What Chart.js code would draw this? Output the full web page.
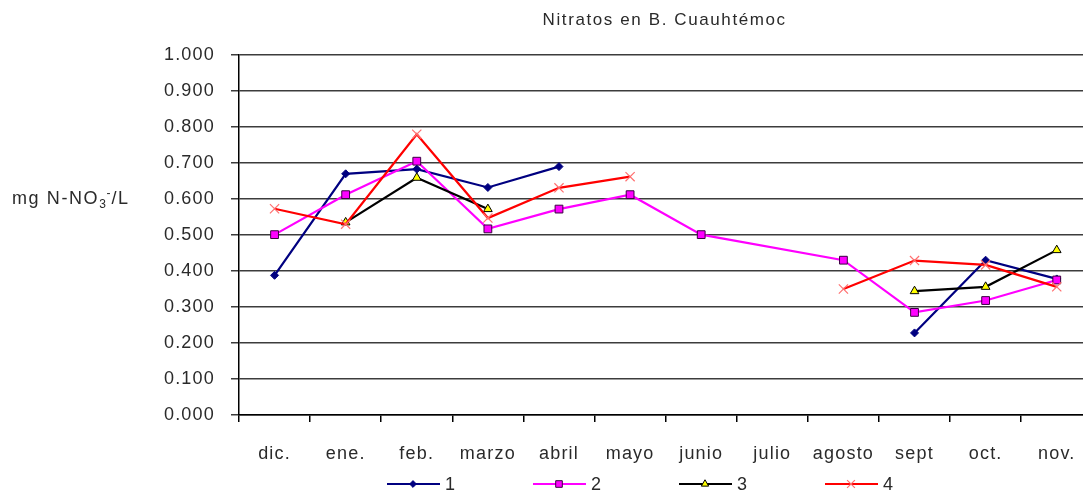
<!DOCTYPE html>
<html>
<head>
<meta charset="utf-8">
<script src="https://cdn.jsdelivr.net/npm/chart.js@4/dist/chart.umd.min.js"></script>
<style>
html,body{margin:0;padding:0;background:#fff;overflow:hidden;width:1083px;height:494px;}
canvas{display:block;}
</style>
</head>
<body>
<canvas id="c" width="1100" height="494"></canvas>
<script>
const chartTitle = 'Nitratos en B. Cuauhtémoc';
const categories = ['dic.','ene.','feb.','marzo','abril','mayo','junio','julio','agosto','sept','oct.','nov.'];
const seriesNames = ['1','2','3','4'];
const serie1 = [0.388, 0.670, 0.683, 0.632, 0.690, null, null, null, null, 0.228, 0.430, 0.378];
const serie2 = [0.501, 0.612, 0.705, 0.517, 0.572, 0.612, 0.501, null, 0.430, 0.285, 0.318, 0.375];
const serie3 = [null, 0.535, 0.659, 0.572, null, null, null, null, null, 0.344, 0.356, 0.458];
const serie4 = [0.573, 0.530, 0.780, 0.547, 0.631, 0.662, null, null, 0.350, 0.429, 0.417, 0.356];
const yTicks = [0, 0.1, 0.2, 0.3, 0.4, 0.5, 0.6, 0.7, 0.8, 0.9, 1.0];

const FONT = 'Liberation Sans, Arial, sans-serif';
const LS = '1.2px';
const TXT = '#2a2a2a';

const datasets = [
  {label: seriesNames[0], data: serie1, borderColor:'#000080', backgroundColor:'#000080',
   pointStyle:'rectRot', pointRadius:4, pointBorderColor:'#000080', pointBackgroundColor:'#000080', pointBorderWidth:1, order:4},
  {label: seriesNames[1], data: serie2, borderColor:'#FF00FF', backgroundColor:'#FF00FF', spanGaps:true,
   pointStyle:'rect', pointRadius:5.5, pointBorderColor:'#3a0040', pointBackgroundColor:'#FF00FF', pointBorderWidth:1, order:3},
  {label: seriesNames[2], data: serie3, borderColor:'#000000', backgroundColor:'#000000',
   pointStyle:'triangle', pointRadius:5, pointBorderColor:'#000000', pointBackgroundColor:'#FFFF00', pointBorderWidth:1, order:2},
  {label: seriesNames[3], data: serie4, borderColor:'#FF0000', backgroundColor:'#FF0000',
   pointStyle:'crossRot', pointRadius:6.5, pointBorderColor:'#FF7070', pointBackgroundColor:'#FF7070', pointBorderWidth:1.2, order:1}
];
datasets.forEach(d => { d.borderWidth = 2.2; d.tension = 0; d.fill = false; });

const setLS = {
  id:'setLS',
  beforeUpdate(chart){ chart.ctx.letterSpacing = LS; },
  beforeLayout(chart){ chart.ctx.letterSpacing = LS; },
  beforeDraw(chart){ chart.ctx.letterSpacing = LS; }
};

const extras = {
  id:'extras',
  afterDraw(chart){
    const ctx = chart.ctx;
    const ca = chart.chartArea;
    ctx.save();
    // title
    ctx.letterSpacing = '1.6px';
    ctx.fillStyle = TXT;
    ctx.font = '17px ' + FONT;
    ctx.textAlign = 'center';
    ctx.textBaseline = 'middle';
    ctx.fillText(chartTitle, (ca.left + ca.right) / 2 - 1, 20);
    // y axis title: mg N-NO3-/L
    ctx.letterSpacing = '1.6px';
    ctx.textAlign = 'left';
    ctx.textBaseline = 'alphabetic';
    ctx.font = '18px ' + FONT;
    let x = 12, y = 204;
    const p1 = 'mg N-NO';
    ctx.fillText(p1, x, y); x += ctx.measureText(p1).width;
    ctx.font = '12px ' + FONT;
    ctx.fillText('3', x, y + 4);
    const w3 = ctx.measureText('3').width;
    ctx.fillText('-', x + w3 - 1, y - 7);
    x += w3 + 4;
    ctx.font = '18px ' + FONT;
    ctx.fillText('/L', x, y);
    // legend
    ctx.letterSpacing = '1.2px';
    const ly = 484;
    chart.data.datasets.forEach((ds, i) => {
      const x0 = ca.left + 148 + 146 * i;
      ctx.strokeStyle = ds.borderColor;
      ctx.lineWidth = 2;
      ctx.beginPath(); ctx.moveTo(x0, ly); ctx.lineTo(x0 + 53, ly); ctx.stroke();
      ctx.fillStyle = ds.pointBackgroundColor;
      ctx.strokeStyle = ds.pointBorderColor;
      ctx.lineWidth = ds.pointBorderWidth;
      Chart.helpers.drawPoint(ctx, {pointStyle: ds.pointStyle, radius: ds.pointRadius * 0.85, rotation: 0, borderWidth: ds.pointBorderWidth}, x0 + 26, ly);
      ctx.fillStyle = TXT;
      ctx.font = '18px ' + FONT;
      ctx.textBaseline = 'middle';
      ctx.fillText(ds.label, x0 + 58, ly + 1);
    });
    ctx.restore();
  }
};

new Chart(document.getElementById('c'), {
  type:'line',
  data:{labels: categories, datasets: datasets},
  plugins:[setLS, extras],
  options:{
    responsive:false,
    animation:false,
    devicePixelRatio:1,
    layout:{padding:{left:0, right:3, top:55, bottom:14}},
    plugins:{legend:{display:false}, title:{display:false}, tooltip:{enabled:false}},
    scales:{
      x:{
        offset:true,
        afterFit(scale){ scale.height = 65; },
        grid:{display:true, offset:true, drawOnChartArea:false, drawTicks:true, tickLength:7, color:'#000', lineWidth:1.5},
        border:{display:true, color:'#000', width:1.5},
        ticks:{color:TXT, font:{family:FONT, size:18}, padding:21, maxRotation:0, autoSkip:false}
      },
      y:{
        min:0, max:1,
        afterFit(scale){ scale.width = 239; },
        afterBuildTicks(scale){ scale.ticks = yTicks.map(v => ({value:v})); },
        grid:{color:'#3c3c3c', lineWidth:1.5, drawTicks:true, tickLength:8},
        border:{display:true, color:'#000', width:1.5},
        ticks:{color:TXT, font:{family:FONT, size:18}, padding:16, callback:(v)=>Number(v).toFixed(3)}
      }
    }
  }
});
</script>
</body>
</html>
